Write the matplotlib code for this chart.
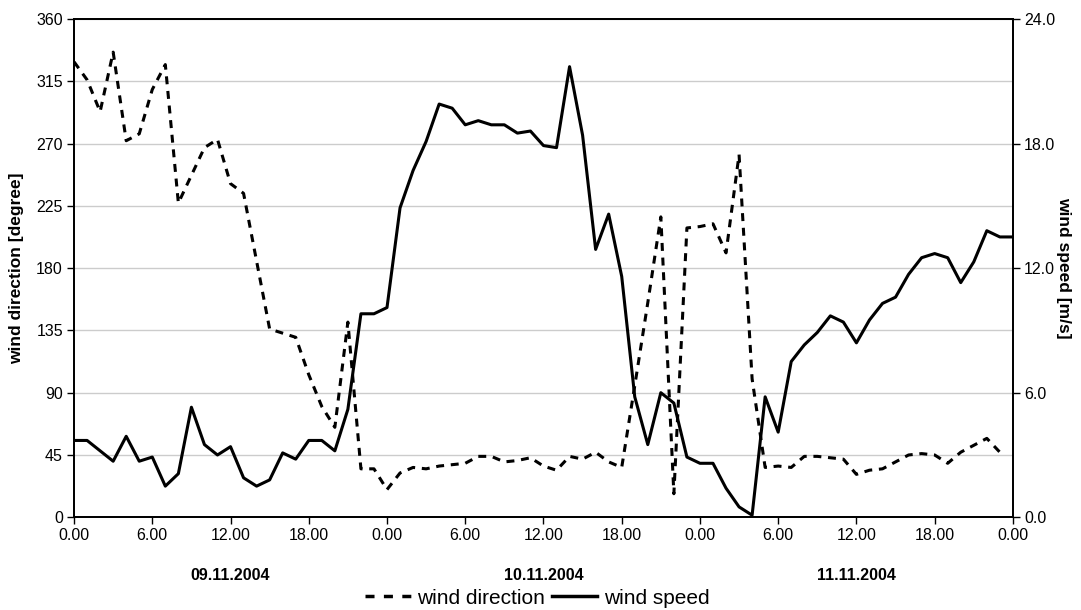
import matplotlib
matplotlib.use("Agg")
import matplotlib.pyplot as plt
import matplotlib.transforms as mtransforms
from matplotlib.lines import Line2D
import numpy as np

plt.rcParams["font.family"] = ["Liberation Sans", "DejaVu Sans"]

# hourly values, 09.11.2004 00:00 onwards
hours_dir = np.arange(72)
wind_direction = [
    329, 316, 293, 336, 272, 277, 309, 327, 227, 247, 267, 273,
    241, 234, 185, 136, 133, 130, 103, 80, 65, 141, 35, 35,
    20, 32, 36, 35, 37, 38, 39, 44, 44, 40, 41, 43,
    37, 34, 44, 42, 47, 40, 36, 95, 155, 217, 17, 209,
    210, 212, 191, 262, 100, 36, 37, 36, 44, 44, 43, 42,
    31, 34, 35, 40, 45, 46, 45, 39, 47, 52, 57, 47,
]
hours_spd = np.arange(73)
wind_speed = [
    3.7, 3.7, 3.2, 2.7, 3.9, 2.7, 2.9, 1.5, 2.1, 5.3, 3.5, 3.0,
    3.4, 1.9, 1.5, 1.8, 3.1, 2.8, 3.7, 3.7, 3.2, 5.2, 9.8, 9.8,
    10.1, 14.9, 16.7, 18.1, 19.9, 19.7, 18.9, 19.1, 18.9, 18.9, 18.5, 18.6,
    17.9, 17.8, 21.7, 18.4, 12.9, 14.6, 11.6, 5.8, 3.5, 6.0, 5.5, 2.9,
    2.6, 2.6, 1.4, 0.5, 0.1, 5.8, 4.1, 7.5, 8.3, 8.9, 9.7, 9.4,
    8.4, 9.5, 10.3, 10.6, 11.7, 12.5, 12.7, 12.5, 11.3, 12.3, 13.8, 13.5,
    13.5,
]
dates = ["09.11.2004", "10.11.2004", "11.11.2004"]
date_pos = [12, 36, 60]
x_ticks = list(range(0, 73, 6))
x_labels = [f"{h % 24}.00" for h in x_ticks]

fig = plt.figure(figsize=(10.81, 6.10), dpi=100)
ax = fig.add_axes([0.0685, 0.152, 0.8685, 0.817])
ax2 = ax.twinx()

ax.set_xlim(0, 72)
ax.set_ylim(0, 360)
ax.set_yticks(range(0, 361, 45))
ax.set_xticks(x_ticks)
ax.set_xticklabels(x_labels)
ax.grid(axis="y", color="#cccccc", linewidth=1)
ax.set_axisbelow(True)

ax2.set_ylim(0, 24)
ax2.set_yticks(np.arange(0, 24.1, 6))
ax2.set_yticklabels([f"{v:.1f}" for v in np.arange(0, 24.1, 6)])

ax.plot(hours_dir, wind_direction, color="black", lw=2.2,
        linestyle=(0, (2.6, 2.2)))
ax2.plot(hours_spd, wind_speed, color="black", lw=2.2)

for a in (ax, ax2):
    a.tick_params(labelsize=11.5, direction="out", length=5, width=1,
                  colors="black", pad=3)
    for s in a.spines.values():
        s.set_linewidth(1.3)

fig.text(17 / 1081, 0.5607, "wind direction [degree]", rotation=90,
         ha="center", va="center", fontsize=12.5, fontweight="bold")
fig.text(1064 / 1081, 0.5607, "wind speed [m/s]", rotation=270,
         ha="center", va="center", fontsize=12.5, fontweight="bold")

trans = mtransforms.blended_transform_factory(ax.transData, ax.transAxes)
for d, p in zip(dates, date_pos):
    ax.text(p, -0.117, d, transform=trans, ha="center", va="center",
            fontsize=11.5, fontweight="bold")

# legend proxies (three full dashes like the Excel legend)
handles = [
    Line2D([], [], color="black", lw=2.5, linestyle=(0, (2.6, 2.7))),
    Line2D([], [], color="black", lw=2.5),
]
fig.legend(handles=handles, labels=["wind direction", "wind speed"],
           loc="center", bbox_to_anchor=(0.497, 1 - 598 / 610),
           ncol=2, frameon=False, fontsize=15, handlelength=2.2,
           columnspacing=0.3, handletextpad=0.3, borderpad=0)

fig.savefig("out.png", dpi=100)
